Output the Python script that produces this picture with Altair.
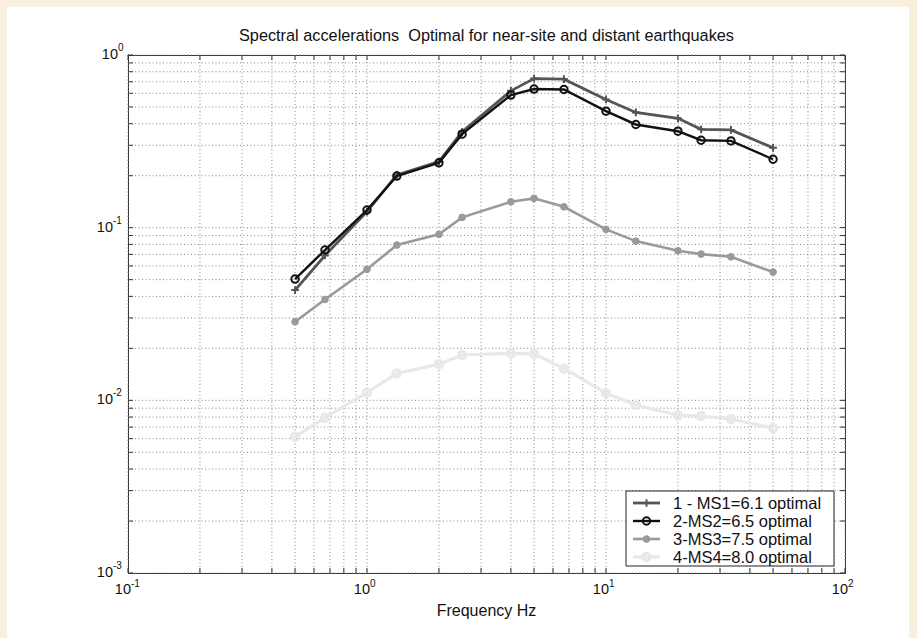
import altair as alt
import pandas as pd

# Frequencies (Hz) at which the spectral accelerations were computed
freq_hz = [0.5, 0.667, 1.0, 1.333, 2.0, 2.5, 4.0, 5.0, 6.667, 10.0, 13.33, 20.0, 25.0, 33.33, 50.0]

# Spectral accelerations for the four scenario earthquakes
ms1 = [0.0435, 0.069, 0.124, 0.202, 0.241, 0.359, 0.620, 0.730, 0.725, 0.553, 0.465, 0.430, 0.371, 0.368, 0.290]
ms2 = [0.0504, 0.0742, 0.1265, 0.199, 0.2375, 0.348, 0.586, 0.635, 0.631, 0.473, 0.396, 0.362, 0.321, 0.318, 0.249]
ms3 = [0.0285, 0.0384, 0.0574, 0.0793, 0.0915, 0.1147, 0.1413, 0.1478, 0.1321, 0.0978, 0.0836, 0.0735, 0.0703, 0.0678, 0.0553]
ms4 = [0.00615, 0.00793, 0.0111, 0.0143, 0.0162, 0.0183, 0.0187, 0.0186, 0.0153, 0.0110, 0.0094, 0.0082, 0.0081, 0.0078, 0.0069]

series_names = ["1 - MS1=6.1 optimal", "2-MS2=6.5 optimal", "3-MS3=7.5 optimal", "4-MS4=8.0 optimal"]
series_values = [ms1, ms2, ms3, ms4]

# Non-breaking space keeps the double gap in the SVG text
title_text = "Spectral accelerations\u00a0 Optimal for near-site and distant earthquakes"
xlabel_text = "Frequency Hz"

# Decade labels and log grid positions
x_decades = [0.1, 1.0, 10.0, 100.0]
x_exponents = ["-1", "0", "1", "2"]
y_decades = [1.0, 0.1, 0.01, 0.001]
y_exponents = ["0", "-1", "-2", "-3"]
x_grid = [m * d for d in [0.1, 1.0, 10.0] for m in range(1, 10)] + [100.0]
y_grid = [m * d for d in [0.001, 0.01, 0.1] for m in range(1, 10)] + [1.0]

W, H = 717, 518
FONT = "Liberation Sans"
INK = "#111111"
CREAM = "#f9efdf"

PLUS = "M-1,0H1M0,-1V1"
styles = [
    dict(color="#555555", lw=2.8, shape=PLUS, filled=False, size=60, sw=2),
    dict(color="#111111", lw=2.4, shape="circle", filled=False, size=55, sw=2),
    dict(color="#9a9a9a", lw=2.6, shape="circle", filled=True, size=45, sw=1),
    dict(color="#e8e8e8", lw=3.2, shape="circle", filled=False, size=55, sw=3),
]

rows = []
for name, vals in zip(series_names, series_values):
    for f, v in zip(freq_hz, vals):
        rows.append({"freq": f, "acc": v, "series": name})
df = pd.DataFrame(rows)

x_scale = alt.Scale(type="log", domain=[0.1, 100], nice=False)
y_scale = alt.Scale(type="log", domain=[0.001, 1], nice=False)


def X(field):
    return alt.X(f"{field}:Q", scale=x_scale, axis=None)


def Y(field):
    return alt.Y(f"{field}:Q", scale=y_scale, axis=None)


def point_style(st):
    pt = dict(shape=st["shape"], size=st["size"], strokeWidth=st["sw"], opacity=1)
    if st["filled"]:
        pt.update(filled=True, fill=st["color"], stroke=st["color"])
    else:
        pt.update(filled=False, stroke=st["color"], fillOpacity=0)
    return pt


one_row = pd.DataFrame([{"k": 0}])
layers = []

# Cream page border
for x0, x1, y0, y1 in [(-128, 789, -55, -48), (-128, -121, -55, 583), (781, 789, -55, 583)]:
    layers.append(alt.Chart(one_row).mark_rect(fill=CREAM, strokeWidth=0).encode(
        x=alt.value(x0), x2=alt.value(x1), y=alt.value(y0), y2=alt.value(y1)))

# Dotted log grid
xt = alt.Chart(pd.DataFrame({"v": x_grid}))
yt = alt.Chart(pd.DataFrame({"v": y_grid}))
grid_style = dict(color="#888888", strokeWidth=1, strokeDash=[1, 2.5])
layers += [
    xt.mark_rule(**grid_style).encode(x=X("v"), y=alt.value(0), y2=alt.value(H)),
    yt.mark_rule(**grid_style).encode(y=Y("v"), x=alt.value(0), x2=alt.value(W)),
]

# Series lines and markers
base = alt.Chart(df)
for name, st in zip(series_names, styles):
    sel = base.transform_filter(alt.datum.series == name)
    layers.append(sel.mark_line(color=st["color"], strokeWidth=st["lw"]).encode(x=X("freq"), y=Y("acc")))
    layers.append(sel.mark_point(**point_style(st)).encode(x=X("freq"), y=Y("acc")))

# Inward tick marks on all four sides
tick_style = dict(color="#333333", strokeWidth=1)
layers += [
    xt.mark_rule(**tick_style).encode(x=X("v"), y=alt.value(H), y2=alt.value(H - 5)),
    xt.mark_rule(**tick_style).encode(x=X("v"), y=alt.value(0), y2=alt.value(5)),
    yt.mark_rule(**tick_style).encode(y=Y("v"), x=alt.value(0), x2=alt.value(5)),
    yt.mark_rule(**tick_style).encode(y=Y("v"), x=alt.value(W), x2=alt.value(W - 5)),
]

# Decade labels written as 10 with a raised exponent
xl = alt.Chart(pd.DataFrame({"v": x_decades, "exp": x_exponents}))
layers += [
    xl.mark_text(align="right", baseline="alphabetic", dx=3, font=FONT, fontSize=14.5, color=INK).encode(
        x=X("v"), y=alt.value(H + 21), text=alt.value("10")),
    xl.mark_text(align="left", baseline="alphabetic", dx=3, font=FONT, fontSize=10, color=INK).encode(
        x=X("v"), y=alt.value(H + 14), text="exp:N"),
]
ydf = pd.DataFrame({"v": y_decades, "exp": y_exponents})
for mask, xpos in [(ydf["exp"] == "0", -10), (ydf["exp"] != "0", -15)]:
    yl = alt.Chart(ydf[mask])
    layers += [
        yl.mark_text(align="right", baseline="middle", font=FONT, fontSize=14.5, color=INK).encode(
            y=Y("v"), x=alt.value(xpos), text=alt.value("10")),
        yl.mark_text(align="left", baseline="middle", dy=-7, font=FONT, fontSize=10, color=INK).encode(
            y=Y("v"), x=alt.value(xpos), text="exp:N"),
    ]

# Chart title and x axis title
layers.append(alt.Chart(pd.DataFrame([{"t": title_text}])).mark_text(
    align="center", baseline="alphabetic", font=FONT, fontSize=16.3, color=INK).encode(
    x=alt.value(W / 2), y=alt.value(-14), text="t:N"))
layers.append(alt.Chart(pd.DataFrame([{"t": xlabel_text}])).mark_text(
    align="center", baseline="alphabetic", font=FONT, fontSize=16, color=INK).encode(
    x=alt.value(W / 2), y=alt.value(H + 43), text="t:N"))

# Legend box in the lower right corner
LX0, LX1, LY0, LY1 = 498, 706, 436, 511
layers.append(alt.Chart(one_row).mark_rect(fill="white", stroke="#222222", strokeWidth=1).encode(
    x=alt.value(LX0), x2=alt.value(LX1), y=alt.value(LY0), y2=alt.value(LY1)))
row_y = [448, 466, 484, 502]
for name, st, ry in zip(series_names, styles, row_y):
    lab = alt.Chart(pd.DataFrame([{"name": name}]))
    layers.append(lab.mark_rule(color=st["color"], strokeWidth=st["lw"]).encode(
        x=alt.value(505), x2=alt.value(532), y=alt.value(ry)))
    layers.append(lab.mark_point(**point_style(st)).encode(x=alt.value(518.5), y=alt.value(ry)))
    layers.append(lab.mark_text(align="left", baseline="middle", font=FONT, fontSize=16.5, color=INK).encode(
        x=alt.value(545), y=alt.value(ry + 1), text="name:N"))

chart = alt.layer(*layers).properties(
    width=W, height=H,
    padding={"left": 128, "top": 55, "right": 72, "bottom": 65},
    autosize=alt.AutoSizeParams(type="none"),
    background="white",
).configure_view(
    stroke="#333333", strokeWidth=1
)

chart.save("out.html", embed_options={"renderer": "svg", "actions": False})
